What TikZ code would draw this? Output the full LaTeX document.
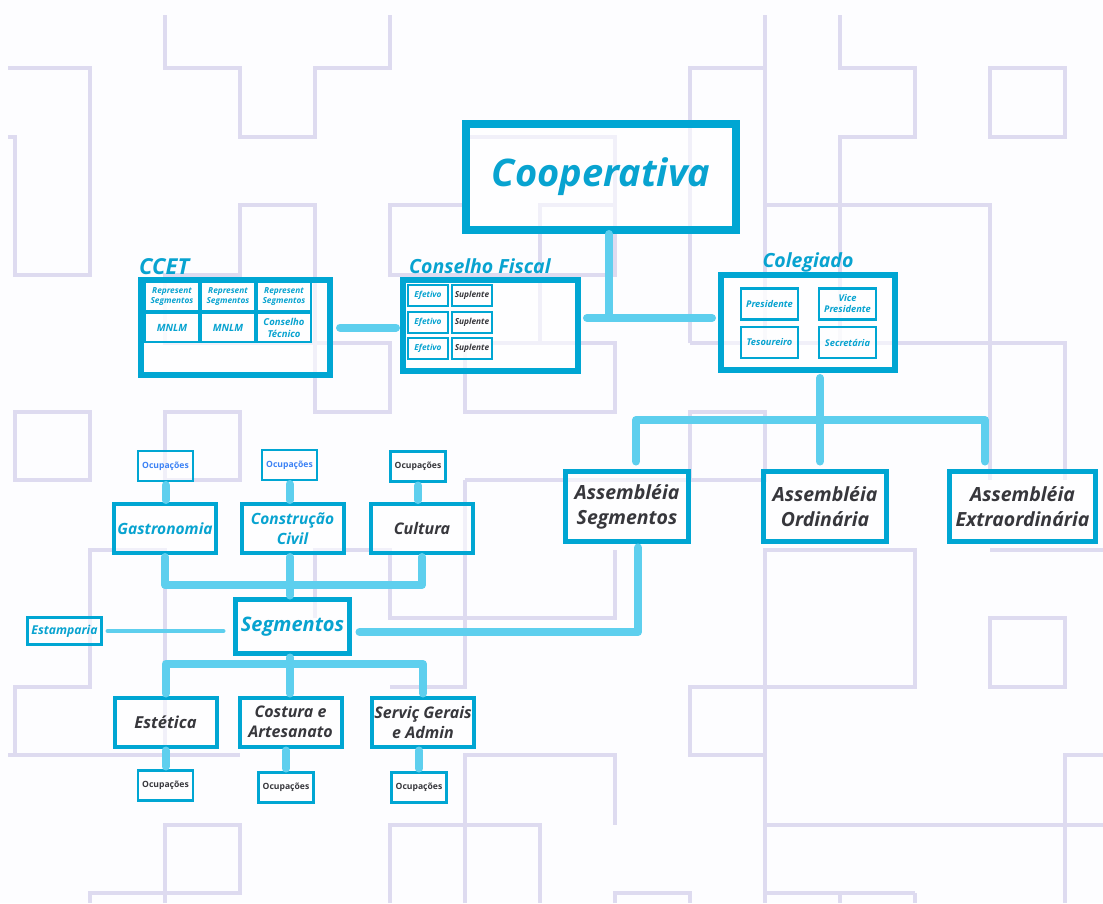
\documentclass[tikz,border=0pt]{standalone}
\usepackage{fontspec}
\setmainfont{Open Sans}
\usetikzlibrary{calc}

\definecolor{boxcyan}{RGB}{0,166,211}
\definecolor{linkcyan}{RGB}{94,207,238}
\definecolor{txtcyan}{RGB}{8,163,208}
\definecolor{txtdark}{RGB}{55,55,60}
\definecolor{txtblue}{RGB}{60,130,245}
\definecolor{mazeline}{RGB}{222,219,240}
\definecolor{paper}{RGB}{253,253,255}

\tikzset{
  box/.style = {draw=boxcyan, fill=white, fill opacity=0.6, text opacity=1,
    inner sep=0pt, outer sep=0pt, align=center, font=\bfseries\itshape},
  bigbox/.style = {box, line width=8pt},
  panel/.style = {box, line width=6pt},
  asmbox/.style = {box, line width=5pt, text=txtdark,
    font=\bfseries\itshape\fontsize{19.5}{25}\selectfont},
  segbox/.style = {box, line width=4pt, minimum width=102pt, minimum height=49pt,
    font=\bfseries\itshape\fontsize{15.5}{20}\selectfont},
  cell/.style = {box, line width=2pt, text=txtcyan},
  ocup/.style = {box, line width=2.5pt, minimum width=55pt, minimum height=30pt,
    font=\bfseries\fontsize{8.6}{10}\selectfont},
  title/.style = {text=txtcyan, inner sep=0pt, anchor=base west,
    font=\bfseries\itshape\fontsize{19.5}{22}\selectfont},
  link/.style = {draw=linkcyan, line width=8pt, line cap=round, line join=round,
    shorten <=4pt, shorten >=4pt},
  thinlink/.style = {link, line width=4pt},
  maze/.style = {draw=mazeline, line width=3.5pt}
}

\begin{document}
\begin{tikzpicture}[x=1pt, y=-1pt]
  \useasboundingbox (0,0) rectangle (1103,903);
  \fill[paper] (0,0) rectangle (1103,903);

  % background maze
  \begin{scope}
    \clip (8,15) rectangle (1103,903);
    \draw[maze] (165,0) -- (165,68) -- (240,68) -- (240,137) -- (315,137) -- (315,68) -- (390,68) -- (390,0);
    \draw[maze] (0,68) -- (90,68) -- (90,275) -- (15,275) -- (15,137) -- (0,137);
    \draw[maze] (240,205) -- (315,205) -- (315,412) -- (390,412) -- (390,343) -- (165,343) -- (165,275) -- (240,275) -- cycle;
    \draw[maze] (390,275) -- (390,205) -- (465,205) -- (465,137) -- (615,137) -- (615,275) -- cycle;
    \draw[maze] (540,343) -- (540,205) -- (615,205);
    \draw[maze] (465,343) rectangle (615,412);
    \draw[maze] (690,343) -- (690,68) -- (765,68);
    \draw[maze] (765,0) -- (765,343);
    \draw[maze] (840,0) -- (840,68) -- (915,68) -- (915,137) -- (840,137) -- (840,343);
    \draw[maze] (765,205) -- (990,205) -- (990,480);
    \draw[maze] (690,343) -- (1065,343) -- (1065,480);
    \draw[maze] (990,68) rectangle (1065,137);
    \draw[maze] (15,412) rectangle (90,480);
    \draw[maze] (165,412) rectangle (240,480);
    \draw[maze] (690,412) rectangle (765,480);
    \draw[maze] (465,480) -- (690,480);
    \draw[maze] (465,480) -- (465,687) -- (390,687);
    \draw[maze] (0,755) -- (15,755) -- (15,687) -- (90,687) -- (90,550) -- (165,550) -- (165,755);
    \draw[maze] (15,755) -- (240,755);
    \draw[maze] (315,618) -- (315,550) -- (390,550) -- (390,618) -- (615,618) -- (615,550);
    \draw[maze] (465,903) -- (465,755) -- (615,755) -- (615,825);
    \draw[maze] (390,903) -- (390,825) -- (540,825) -- (540,903);
    \draw[maze] (165,903) -- (165,825) -- (240,825) -- (240,893) -- (90,893) -- (90,903);
    \draw[maze] (615,903) -- (615,893) -- (690,893) -- (690,903);
    \draw[maze] (765,550) -- (915,550) -- (915,687) -- (690,687) -- (690,755) -- (765,755) -- cycle;
    \draw[maze] (765,755) -- (765,903);
    \draw[maze] (765,825) -- (1103,825);
    \draw[maze] (765,893) -- (915,893);
    \draw[maze] (840,893) -- (840,903);
    \draw[maze] (915,893) -- (915,903);
    \draw[maze] (990,618) rectangle (1065,687);
    \draw[maze] (1103,755) -- (1065,755) -- (1065,903);
    \draw[maze] (990,550) -- (1103,550);
  \end{scope}

  % top
  \node[bigbox, minimum width=270pt, minimum height=106pt, text=txtcyan,
    font=\bfseries\itshape\fontsize{38}{44}\selectfont] (coop) at (601,177) {Cooperativa};

  % CCET
  \node[panel, minimum width=189pt, minimum height=95pt] (ccet) at (235.5,327.5) {};
  \node[title, font=\bfseries\itshape\fontsize{22}{24}\selectfont] (ccettitle) at (139,274) {CCET};
  \begin{scope}[node distance=56pt, every node/.style={cell, minimum width=54pt, minimum height=29pt}]
    \node[font=\bfseries\itshape\fontsize{8.3}{10}\selectfont] (rep1) at (172,296.5) {Represent\\Segmentos};
    \node[font=\bfseries\itshape\fontsize{8.3}{10}\selectfont] (rep2) [right of = rep1] {Represent\\Segmentos};
    \node[font=\bfseries\itshape\fontsize{8.3}{10}\selectfont] (rep3) [right of = rep2] {Represent\\Segmentos};
    \node[font=\bfseries\itshape\fontsize{10}{12}\selectfont] (mnlm1) at (172,327.5) {MNLM};
    \node[font=\bfseries\itshape\fontsize{10}{12}\selectfont] (mnlm2) [right of = mnlm1] {MNLM};
    \node[font=\bfseries\itshape\fontsize{9.5}{12}\selectfont] (tecnico) [right of = mnlm2] {Conselho\\Técnico};
  \end{scope}

  % Conselho Fiscal
  \node[panel, minimum width=175pt, minimum height=91pt] (fiscal) at (490.5,325.5) {};
  \node[title] (fiscaltitle) at (409,273) {Conselho Fiscal};
  \begin{scope}[node distance=44pt, every node/.style={cell, minimum width=40pt, minimum height=21pt,
      font=\bfseries\itshape\fontsize{8.3}{10}\selectfont}]
    \node (ef1) at (428,295) {Efetivo};
    \node[text=txtdark] (sup1) [right of = ef1] {Suplente};
    \node (ef2) at (428,322) {Efetivo};
    \node[text=txtdark] (sup2) [right of = ef2] {Suplente};
    \node (ef3) at (428,348.5) {Efetivo};
    \node[text=txtdark] (sup3) [right of = ef3] {Suplente};
  \end{scope}

  % Colegiado
  \node[panel, minimum width=174pt, minimum height=95pt] (coleg) at (808,322.5) {};
  \node[title, anchor=base] (colegtitle) at (808,267) {Colegiado};
  \begin{scope}[node distance=78pt, every node/.style={cell, line width=2.5pt, minimum width=57pt,
      minimum height=31pt, font=\bfseries\itshape\fontsize{9.3}{11}\selectfont}]
    \node (pres) at (769.5,304) {Presidente};
    \node (vice) [right of = pres] {Vice\\Presidente};
    \node (tes) at (769.5,342.5) {Tesoureiro};
    \node (sec) [right of = tes] {Secretária};
  \end{scope}

  % assembleias
  \node[asmbox, minimum width=123pt, minimum height=70pt] (asmseg) at (627,506.5) {Assembléia\\Segmentos};
  \node[asmbox, minimum width=123pt, minimum height=70pt] (asmord) at (825,506.5) {Assembléia\\Ordinária};
  \node[asmbox, minimum width=146pt, minimum height=70pt] (asmext) at (1022.5,506.5) {Assembléia\\Extraordinária};

  % segmentos
  \node[box, line width=5pt, minimum width=114pt, minimum height=54pt, text=txtcyan,
    font=\bfseries\itshape\fontsize{20}{24}\selectfont] (segm) at (292.5,626.5) {Segmentos};
  \node[box, line width=3pt, minimum width=74pt, minimum height=27pt, text=txtcyan,
    font=\bfseries\itshape\fontsize{12.2}{14}\selectfont] (estamp) at (64.5,631) {Estamparia};

  \node[segbox, text=txtcyan] (gastro) at (165,528.5) {Gastronomia};
  \node[segbox, text=txtcyan] (constr) at (292.5,528.5) {Construção\\Civil};
  \node[segbox, text=txtdark, font=\bfseries\itshape\fontsize{16}{20}\selectfont] (cultura) at (422,528.5) {Cultura};
  \node[ocup, text=txtblue] (ocu1) at (165.5,466) {Ocupações};
  \node[ocup, text=txtblue] (ocu2) at (289.5,465) {Ocupações};
  \node[ocup, text=txtdark] (ocu3) at (418,466.5) {Ocupações};

  \node[segbox, text=txtdark, font=\bfseries\itshape\fontsize{16.5}{20}\selectfont] (estet) at (165.5,722) {Estética};
  \node[segbox, text=txtdark, font=\bfseries\itshape\fontsize{16}{20}\selectfont] (costura) at (290.5,722) {Costura e\\Artesanato};
  \node[segbox, text=txtdark, font=\bfseries\itshape\fontsize{16}{20}\selectfont] (servic) at (423,722) {Serviç Gerais\\e Admin};
  \node[ocup, text=txtdark] (ocu4) at (165.5,785.5) {Ocupações};
  \node[ocup, text=txtdark] (ocu5) at (286,787.5) {Ocupações};
  \node[ocup, text=txtdark] (ocu6) at (419,787.5) {Ocupações};

  % connectors
  \coordinate (coopbar) at (609,318);
  \coordinate (asmbar) at (820,420);
  \coordinate (asmleft) at (636,420);
  \coordinate (asmright) at (985,420);
  \coordinate (segjoin) at (638,632);
  \coordinate (topbar) at (290,585);
  \coordinate (botbar) at (290,664);

  \draw[link, shorten <=10pt, shorten >=7pt] (ccet.east) -- (ccet.east -| fiscal.west);
  \draw[link] (coop.south -| coopbar) -- (coopbar);
  \draw[link, shorten <=9pt, shorten >=9pt] (fiscal.east |- coopbar) -- (coleg.west |- coopbar);

  \draw[link, shorten <=8pt, shorten >=0pt] (coleg.south -| asmbar) -- (asmbar);
  \draw[link, shorten <=0pt, shorten >=10pt] (asmbar) -- (asmord.north -| asmbar);
  \draw[link, shorten >=10pt, shorten <=10pt] (asmseg.north -| asmleft) -- (asmleft) -- (asmright) -- (asmext.north -| asmright);

  \draw[link, shorten <=6pt, shorten >=10pt] (asmseg.south -| segjoin) -- (segjoin) -- (segm.east |- segjoin);
  \draw[thinlink, shorten <=6pt, shorten >=12pt] (estamp.east) -- (estamp.east -| segm.west);

  \draw[link] (ocu1) -- (ocu1 |- gastro.north);
  \draw[link] (ocu2) -- (ocu2 |- constr.north);
  \draw[link] (ocu3) -- (ocu3 |- cultura.north);
  \draw[link] (gastro) -- (gastro |- topbar) -- (cultura |- topbar) -- (cultura);
  \draw[link, shorten <=0pt] (topbar) -- (topbar |- constr.south);
  \draw[link, shorten <=0pt] (topbar) -- (topbar |- segm.north);

  \draw[link] (estet) -- (estet |- botbar) -- (servic |- botbar) -- (servic);
  \draw[link] (segm.south -| botbar) -- (botbar |- costura.north);
  \draw[link] (estet) -- (estet |- ocu4.north);
  \draw[link] (ocu5 |- costura.south) -- (ocu5);
  \draw[link] (servic.south -| ocu6) -- (ocu6);
\end{tikzpicture}
\end{document}
